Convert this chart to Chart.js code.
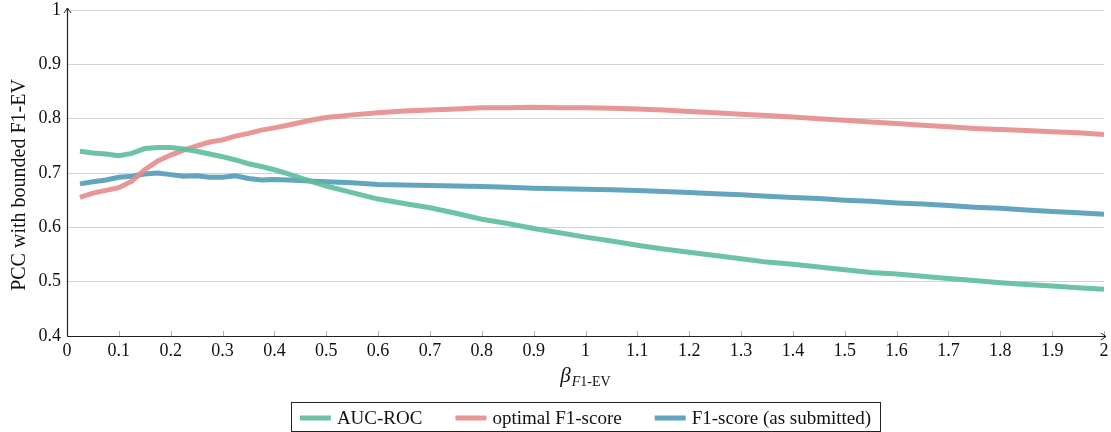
<!DOCTYPE html>
<html>
<head>
<meta charset="utf-8">
<script src="https://cdn.jsdelivr.net/npm/chart.js@4/dist/chart.umd.min.js"></script>
<style>
    html, body { margin: 0; padding: 0; background: #fff; }
    #wrap { width: 1111px; height: 432px; position: relative; }
</style>
</head>
<body>
<div id="wrap"><canvas id="pccChart" width="1111" height="432"></canvas></div>
<script>
// beta values (x) and the three series
const betas = [
    0.025, 0.05, 0.075, 0.1, 0.125, 0.15, 0.175, 0.2, 0.225, 0.25,
    0.275, 0.3, 0.325, 0.35, 0.375, 0.4, 0.425, 0.45, 0.475, 0.5,
    0.55, 0.6, 0.65, 0.7, 0.75, 0.8, 0.85, 0.9, 0.95, 1.0,
    1.05, 1.1, 1.15, 1.2, 1.25, 1.3, 1.35, 1.4, 1.45, 1.5,
    1.55, 1.6, 1.65, 1.7, 1.75, 1.8, 1.85, 1.9, 1.95, 2.0
];
const aucRoc = [
    0.740, 0.737, 0.735, 0.732, 0.736, 0.745, 0.747, 0.747, 0.744, 0.740,
    0.735, 0.730, 0.724, 0.717, 0.712, 0.706, 0.699, 0.691, 0.683, 0.676,
    0.664, 0.652, 0.644, 0.636, 0.626, 0.615, 0.607, 0.598, 0.590, 0.582,
    0.575, 0.567, 0.560, 0.554, 0.548, 0.542, 0.536, 0.532, 0.527, 0.522,
    0.517, 0.514, 0.510, 0.506, 0.502, 0.498, 0.495, 0.492, 0.489, 0.486
];
const optimalF1 = [
    0.655, 0.663, 0.668, 0.673, 0.685, 0.706, 0.722, 0.733, 0.742, 0.750,
    0.757, 0.761, 0.768, 0.773, 0.779, 0.783, 0.788, 0.793, 0.798, 0.802,
    0.807, 0.811, 0.814, 0.816, 0.818, 0.820, 0.820, 0.821, 0.820, 0.820,
    0.819, 0.818, 0.816, 0.813, 0.811, 0.808, 0.806, 0.803, 0.800, 0.797,
    0.794, 0.791, 0.788, 0.785, 0.782, 0.780, 0.778, 0.776, 0.774, 0.771
];
const submittedF1 = [
    0.680, 0.684, 0.687, 0.692, 0.694, 0.698, 0.700, 0.697, 0.694, 0.695,
    0.692, 0.692, 0.695, 0.690, 0.687, 0.688, 0.687, 0.686, 0.685, 0.684,
    0.682, 0.679, 0.678, 0.677, 0.676, 0.675, 0.674, 0.672, 0.671, 0.670,
    0.669, 0.668, 0.666, 0.664, 0.662, 0.660, 0.657, 0.655, 0.653, 0.650,
    0.648, 0.645, 0.643, 0.640, 0.637, 0.635, 0.632, 0.629, 0.627, 0.624
];
const xTicks = [0, 0.1, 0.2, 0.3, 0.4, 0.5, 0.6, 0.7, 0.8, 0.9, 1, 1.1, 1.2, 1.3, 1.4, 1.5, 1.6, 1.7, 1.8, 1.9, 2];
const yTicks = [0.4, 0.5, 0.6, 0.7, 0.8, 0.9, 1];
const seriesNames = ['AUC-ROC', 'optimal F1-score', 'F1-score (as submitted)'];
const seriesColors = ['rgba(95, 190, 158, 0.92)', 'rgba(229, 140, 140, 0.9)', 'rgba(86, 156, 184, 0.92)'];

const serif = "'Liberation Serif', 'DejaVu Serif', serif";

function toPoints(values) {
    return values.map((v, i) => ({ x: betas[i], y: v }));
}

// axes with arrows, small tick marks, y title, x title and the boxed legend
const decorations = {
    id: 'decorations',
    afterDraw(chart) {
        const ctx = chart.ctx;
        const area = chart.chartArea;
        const xs = chart.scales.x;
        ctx.save();

        // x tick marks pointing up
        ctx.strokeStyle = '#b0b0b0';
        ctx.lineWidth = 1;
        for (let t of xTicks) {
            const px = Math.round(xs.getPixelForValue(t)) + 0.5;
            ctx.beginPath();
            ctx.moveTo(px, area.bottom);
            ctx.lineTo(px, area.bottom - 5);
            ctx.stroke();
        }

        // axis lines
        ctx.strokeStyle = '#222';
        ctx.lineWidth = 1.2;
        const ax = Math.round(area.left) + 0.5;
        const ay = Math.round(area.bottom) + 0.5;
        ctx.beginPath();
        ctx.moveTo(ax, ay);
        ctx.lineTo(ax, area.top - 2);
        ctx.moveTo(ax, ay);
        ctx.lineTo(area.right + 2, ay);
        ctx.stroke();

        // arrow heads
        ctx.lineWidth = 1;
        ctx.beginPath();
        ctx.moveTo(ax - 3.5, area.top + 3);
        ctx.quadraticCurveTo(ax - 1, area.top - 0.5, ax, area.top - 2);
        ctx.quadraticCurveTo(ax + 1, area.top - 0.5, ax + 3.5, area.top + 3);
        ctx.moveTo(area.right - 3, ay - 3.5);
        ctx.quadraticCurveTo(area.right + 0.5, ay - 1, area.right + 2, ay);
        ctx.quadraticCurveTo(area.right + 0.5, ay + 1, area.right - 3, ay + 3.5);
        ctx.stroke();

        // y title
        ctx.fillStyle = '#111';
        ctx.font = '20px ' + serif;
        ctx.textAlign = 'center';
        ctx.textBaseline = 'middle';
        ctx.save();
        ctx.translate(20, 185);
        ctx.rotate(-Math.PI / 2);
        ctx.fillText('PCC with bounded F1-EV', 0, 0);
        ctx.restore();

        // x title: beta with subscript F1-EV
        const cx = (area.left + area.right) / 2;
        ctx.textAlign = 'left';
        ctx.textBaseline = 'alphabetic';
        const bigFont = 'italic 21px ' + serif;
        const subItal = 'italic 14px ' + serif;
        const subFont = '14px ' + serif;
        ctx.font = bigFont;
        const wB = ctx.measureText('\u03b2').width;
        ctx.font = subItal;
        const wF = ctx.measureText('F').width;
        ctx.font = subFont;
        const wRest = ctx.measureText('1-EV').width;
        let sx = cx - (wB + 1 + wF + wRest) / 2;
        const base = 382;
        ctx.font = bigFont;
        ctx.fillText('\u03b2', sx, base);
        sx += wB + 1;
        ctx.font = subItal;
        ctx.fillText('F', sx, base + 4);
        sx += wF;
        ctx.font = subFont;
        ctx.fillText('1-EV', sx, base + 4);

        // legend box
        ctx.font = '19px ' + serif;
        const lineLen = 31;
        const textGap = 6;
        const itemGap = 33;
        const widths = seriesNames.map(n => ctx.measureText(n).width);
        let total = 0;
        widths.forEach((w, i) => { total += lineLen + textGap + w + (i < widths.length - 1 ? itemGap : 0); });
        const padX = 9;
        const boxL = Math.round(cx - total / 2 - padX) + 0.5;
        const boxR = Math.round(cx + total / 2 + padX) + 0.5;
        ctx.strokeStyle = '#222';
        ctx.lineWidth = 1;
        ctx.strokeRect(boxL, 402.5, boxR - boxL, 29);
        let lx = cx - total / 2;
        const ly = 418;
        seriesNames.forEach((name, i) => {
            ctx.strokeStyle = seriesColors[i];
            ctx.lineWidth = 5;
            ctx.beginPath();
            ctx.moveTo(lx, ly);
            ctx.lineTo(lx + lineLen, ly);
            ctx.stroke();
            ctx.fillStyle = '#111';
            ctx.textBaseline = 'middle';
            ctx.fillText(name, lx + lineLen + textGap, ly + 1);
            lx += lineLen + textGap + widths[i] + itemGap;
        });

        ctx.restore();
    }
};

const datasets = [aucRoc, optimalF1, submittedF1].map((vals, i) => ({
    label: seriesNames[i],
    data: toPoints(vals),
    borderColor: seriesColors[i],
    borderWidth: 5,
    pointRadius: 0,
    tension: 0,
    fill: false
}));

const ctx = document.getElementById('pccChart').getContext('2d');
new Chart(ctx, {
    type: 'line',
    data: { datasets: datasets },
    options: {
        responsive: false,
        animation: false,
        layout: { padding: { top: 10, right: 7, bottom: 0, left: 0 } },
        plugins: {
            legend: { display: false },
            tooltip: { enabled: false }
        },
        scales: {
            x: {
                type: 'linear',
                min: 0,
                max: 2,
                afterBuildTicks: scale => { scale.ticks = xTicks.map(v => ({ value: v })); },
                afterFit: scale => {
                    scale.height = 96;
                    scale.paddingLeft = 0;
                    scale.paddingRight = 0;
                },
                grid: { display: false, drawTicks: false },
                border: { display: false },
                ticks: {
                    padding: 4,
                    color: '#111',
                    maxRotation: 0,
                    autoSkip: false,
                    font: { family: serif, size: 18 },
                    callback: v => String(Number(v.toFixed(1)))
                }
            },
            y: {
                min: 0.4,
                max: 1,
                afterBuildTicks: scale => { scale.ticks = yTicks.map(v => ({ value: v })); },
                afterFit: scale => {
                    scale.width = 67;
                    scale.paddingTop = 0;
                    scale.paddingBottom = 0;
                },
                grid: { color: '#d2d2d2', lineWidth: 1, drawTicks: false },
                border: { display: false },
                ticks: {
                    padding: 6,
                    color: '#111',
                    font: { family: serif, size: 18 },
                    callback: v => String(Number(v.toFixed(1)))
                }
            }
        }
    },
    plugins: [decorations]
});
</script>
</body>
</html>
